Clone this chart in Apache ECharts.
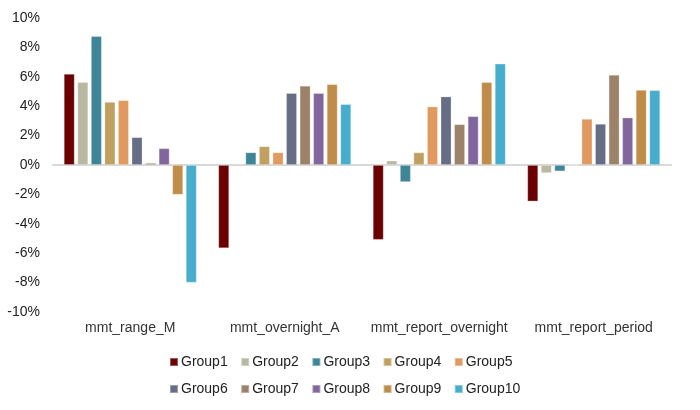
<!DOCTYPE html>
<html>
<head>
<meta charset="utf-8">
<script src="https://cdn.jsdelivr.net/npm/echarts@6/dist/echarts.min.js"></script>
<style>
html,body{margin:0;padding:0;background:#fff;}
#chart{width:700px;height:410px;}
</style>
</head>
<body>
<div id="chart"></div>
<script>
const categories = ['mmt_range_M', 'mmt_overnight_A', 'mmt_report_overnight', 'mmt_report_period'];
const groupNames = ['Group1','Group2','Group3','Group4','Group5','Group6','Group7','Group8','Group9','Group10'];
const group1  = [6.2, -5.66, -5.09, -2.48];
const group2  = [5.64, -0.1, 0.3, -0.55];
const group3  = [8.77, 0.86, -1.16, -0.43];
const group4  = [4.29, 1.27, 0.86, 0];
const group5  = [4.41, 0.86, 3.98, 3.14];
const group6  = [1.89, 4.89, 4.66, 2.8];
const group7  = [0.14, 5.39, 2.77, 6.14];
const group8  = [1.14, 4.89, 3.32, 3.23];
const group9  = [-2.02, 5.5, 5.64, 5.11];
const group10 = [-8.0, 4.14, 6.89, 5.09];
const yTicks = [-10, -8, -6, -4, -2, 0, 2, 4, 6, 8, 10];

const groupData = [group1, group2, group3, group4, group5, group6, group7, group8, group9, group10];
const colors = ['#6B0000','#B9B8A2','#3E8597','#BFA060','#E09A60','#666E86','#9B8268','#80669C','#C08C4A','#46ADCC'];

const chart = echarts.init(document.getElementById('chart'));
const font = 'Liberation Sans, Arial, sans-serif';
const legendBase = { left: 164, itemWidth: 8, itemHeight: 8, itemGap: 12.5, icon: 'rect',
  textStyle: { fontFamily: font, fontSize: 14, color: '#222', padding: [0, 0, 0, -2] } };
chart.setOption({
  animation: false,
  color: colors,
  grid: { left: 53, right: 29, top: 18, bottom: 98 },
  legend: [
    Object.assign({ data: groupNames.slice(0,5), top: 350 }, legendBase),
    Object.assign({ data: groupNames.slice(5), top: 377 }, legendBase)
  ],
  xAxis: [
    { type: 'category', data: categories, position: 'bottom',
      axisLine: { onZero: true, lineStyle: { color: '#D9D9D9', width: 2 } },
      axisTick: { show: false }, axisLabel: { show: false } },
    { type: 'category', data: categories, position: 'bottom',
      axisLine: { show: false, onZero: false }, axisTick: { show: false },
      axisLabel: { interval: 0, fontFamily: font, fontSize: 14, color: '#333', margin: 9 } }
  ],
  yAxis: {
    type: 'value', min: yTicks[0], max: yTicks[yTicks.length-1], interval: 2,
    axisLine: { show: false }, axisTick: { show: false }, splitLine: { show: false },
    axisLabel: { fontFamily: font, fontSize: 14, color: '#222', margin: 13, formatter: v => v + '%' }
  },
  series: groupNames.map((name, i) => ({
    name, type: 'bar', xAxisIndex: 0, data: groupData[i],
    barGap: '25%', barCategoryGap: '14%',
    itemStyle: { color: colors[i], borderColor: 'rgba(255,255,255,0.35)', borderWidth: 0.8 }
  }))
});
</script>
</body>
</html>
